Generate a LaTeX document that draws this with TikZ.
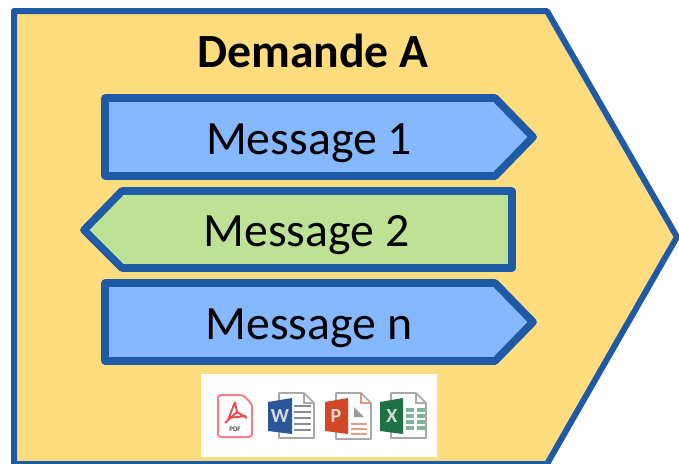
\documentclass[tikz,border=0pt]{standalone}
\usepackage{fontspec}
\setmainfont{Carlito}
\definecolor{edgeblue}{HTML}{1F5AA6}
\definecolor{outerfill}{HTML}{FFDD7F}
\definecolor{bluefill}{HTML}{85B8FF}
\definecolor{greenfill}{HTML}{BDE296}
\definecolor{pdfred}{HTML}{F0484E}
\definecolor{wordblue}{HTML}{2B579A}
\definecolor{pptred}{HTML}{D24726}
\definecolor{xlgreen}{HTML}{1E7145}
\definecolor{docgray}{HTML}{A8A8A8}
\tikzset{
  outerbox/.style={draw=edgeblue,fill=outerfill,line width=6pt,line join=round},
  msgblue/.style={draw=edgeblue,fill=bluefill,line width=7.7pt,line join=round},
  msggreen/.style={draw=edgeblue,fill=greenfill,line width=7.7pt,line join=round},
  msgtext/.style={font=\fontsize{47.8}{48}\selectfont,text=black,inner sep=0pt,anchor=base},
  titletext/.style={font=\fontsize{47.7}{48}\selectfont\bfseries,text=black,inner sep=0pt,anchor=base},
  iconpanel/.style={fill=white,draw=none},
  docpage/.style={draw=docgray,fill=white,line width=1.6pt,line join=round},
  appletter/.style={font=\fontsize{20}{20}\selectfont\bfseries,text=white!85!black,inner sep=0pt},
  docline/.style={line width=1.3pt},
}
\begin{document}
\begin{tikzpicture}[x=1pt,y=-1pt]
\useasboundingbox (0,0) rectangle (679,463);
\draw[outerbox] (14,11) -- (547,11) -- (677,237) -- (547,464) -- (14,464) -- cycle;
\draw[msgblue] (105,98) -- (495,98) -- (533,137) -- (495,176) -- (105,176) -- cycle;
\draw[msggreen] (512,191) -- (122,191) -- (84,230) -- (122,268) -- (512,268) -- cycle;
\draw[msgblue] (105,283) -- (495,283) -- (533,322) -- (495,361) -- (105,361) -- cycle;
\node[titletext] (title) at (313,67) {Demande A};
\node[msgtext] (m1) at (309,154) {Message 1};
\node[msgtext] (m2) at (306.5,246) {Message 2};
\node[msgtext] (mn) at (309,339) {Message n};
\fill[iconpanel] (201,374) rectangle (437,457);
% PDF icon
\draw[draw=pdfred!70,fill=white,line width=2pt,rounded corners=3pt,line join=round] (218,395) -- (243,395) -- (252,404) -- (252,437) -- (218,437) -- cycle;
\draw[pdfred,line width=1.9pt,line join=round] (235,402) -- (228,420) (235,402) -- (237,412) -- (247,418) (225,423) -- (237,412) (228,418) -- (246,416);
\node[font=\fontsize{7}{7}\selectfont\bfseries,text=black!70,inner sep=0pt] (pdf) at (235,429) {PDF};
% Word icon
\draw[docpage] (279,393) -- (304,393) -- (314,403) -- (314,438) -- (279,438) -- cycle;
\draw[docline,docgray] (304,393) -- (304,403) -- (314,403);
\foreach \yy in {406,412,418,424,430} \draw[docline,black!45] (294,\yy) -- (311,\yy);
\fill[wordblue] (268,402) -- (292,398) -- (292,434) -- (268,431) -- cycle;
\node[appletter] (w) at (280,416) {W};
% PowerPoint icon
\draw[docpage] (336,393) -- (361,393) -- (371,403) -- (371,439) -- (336,439) -- cycle;
\draw[docline,pptred!60] (361,393) -- (361,403) -- (371,403);
\fill[black!40] (354,407) -- (354,417) -- (364,417) -- cycle;
\foreach \yy in {424,429,434} \draw[docline,pptred!55] (351,\yy) -- (367,\yy);
\fill[pptred] (325,402) -- (348,398) -- (348,434) -- (325,431) -- cycle;
\node[appletter] (p) at (336,416) {P};
% Excel icon
\draw[docpage] (391,393) -- (416,393) -- (426,403) -- (426,438) -- (391,438) -- cycle;
\draw[docline,docgray] (416,393) -- (416,403) -- (426,403);
\foreach \yy in {408,414,420,426} \foreach \xx in {406,417}
  \fill[xlgreen!55] (\xx,\yy) rectangle ++(8,4);
\fill[xlgreen] (380,402) -- (403,398) -- (403,434) -- (380,431) -- cycle;
\node[appletter] (x) at (392,416) {X};
\end{tikzpicture}
\end{document}
